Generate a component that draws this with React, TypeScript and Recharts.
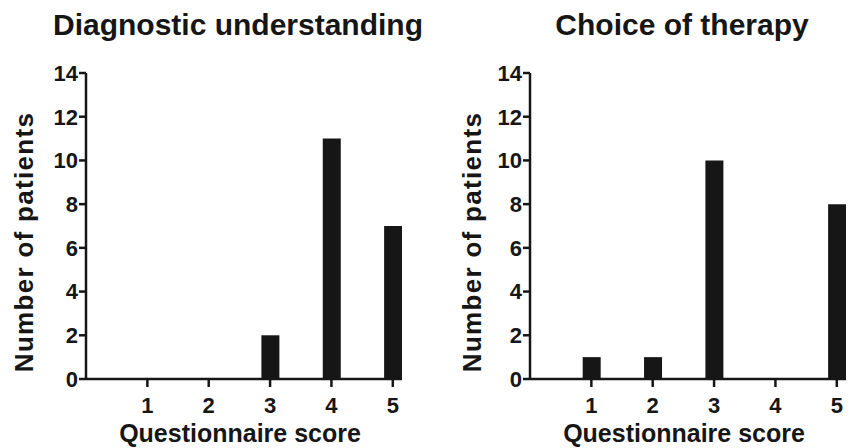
import { BarChart, Bar, XAxis, YAxis, Label } from 'recharts';

const scores = [1, 2, 3, 4, 5];
const diagnosticCounts = [0, 0, 2, 11, 7];
const therapyCounts = [1, 1, 10, 0, 8];
const yTicks = [0, 2, 4, 6, 8, 10, 12, 14];

const INK = '#161616';
const FONT = '"Liberation Sans", Arial, Helvetica, sans-serif';

// tick texts drawn by hand so size/weight match the original
const XTick = ({ x, y, payload }: any) => (
    <text x={x} y={y} dy="0.71em" textAnchor="middle" fill={INK} fontFamily={FONT} fontWeight={700} fontSize={22}>
        {payload.value}
    </text>
);

const YTick = ({ x, y, payload }: any) => (
    <text x={x} y={y} dy="0.355em" textAnchor="end" fill={INK} fontFamily={FONT} fontWeight={700} fontSize={22}>
        {payload.value}
    </text>
);

function Panel({ title, counts, left, yLabelX }: { title: string; counts: number[]; left: number; yLabelX: number }) {
    const data = scores.map((s, i) => ({ score: s, count: counts[i] }));
    return (
        <div style={{ position: 'absolute', left, top: 0, width: 406, height: 448 }}>
            <div
                style={{
                    position: 'absolute', left: 0, top: 10, width: 476, textAlign: 'center',
                    fontFamily: FONT, fontWeight: 700, fontSize: 30, lineHeight: '29px', color: INK, whiteSpace: 'nowrap',
                }}
            >
                {title}
            </div>
            <BarChart width={406} height={448} data={data} margin={{ top: 73, right: 4, bottom: 0, left: 0 }}>
                <XAxis
                    type="number"
                    dataKey="score"
                    domain={[0, 5.15]}
                    ticks={scores}
                    allowDataOverflow
                    height={69}
                    tickSize={8}
                    tickMargin={10}
                    stroke={INK}
                    strokeWidth={2.5}
                    tick={<XTick />}
                >
                    <Label
                        content={() => (
                            <text x={240} y={442} textAnchor="middle" fill={INK} fontFamily={FONT} fontWeight={700} fontSize={25}>
                                Questionnaire score
                            </text>
                        )}
                    />
                </XAxis>
                <YAxis
                    type="number"
                    domain={[0, 14]}
                    ticks={yTicks}
                    width={86}
                    tickSize={7}
                    tickMargin={1}
                    stroke={INK}
                    strokeWidth={2.5}
                    tick={<YTick />}
                >
                    <Label
                        content={() => (
                            <text
                                x={yLabelX}
                                y={242}
                                dy="0.355em"
                                transform={`rotate(-90, ${yLabelX}, 242)`}
                                textAnchor="middle"
                                fill={INK}
                                fontFamily={FONT}
                                fontWeight={700}
                                fontSize={26}
                                letterSpacing={1.3}
                            >
                                Number of patients
                            </text>
                        )}
                    />
                </YAxis>
                <Bar dataKey="count" fill={INK} barSize={18} isAnimationActive={false} />
            </BarChart>
        </div>
    );
}

export default function App() {
    return (
        <div style={{ position: 'absolute', left: 0, top: 0, width: 850, height: 448, background: '#fff', overflow: 'hidden' }}>
            <Panel title="Diagnostic understanding" counts={diagnosticCounts} left={0} yLabelX={24} />
            <Panel title="Choice of therapy" counts={therapyCounts} left={444} yLabelX={28} />
        </div>
    );
}
